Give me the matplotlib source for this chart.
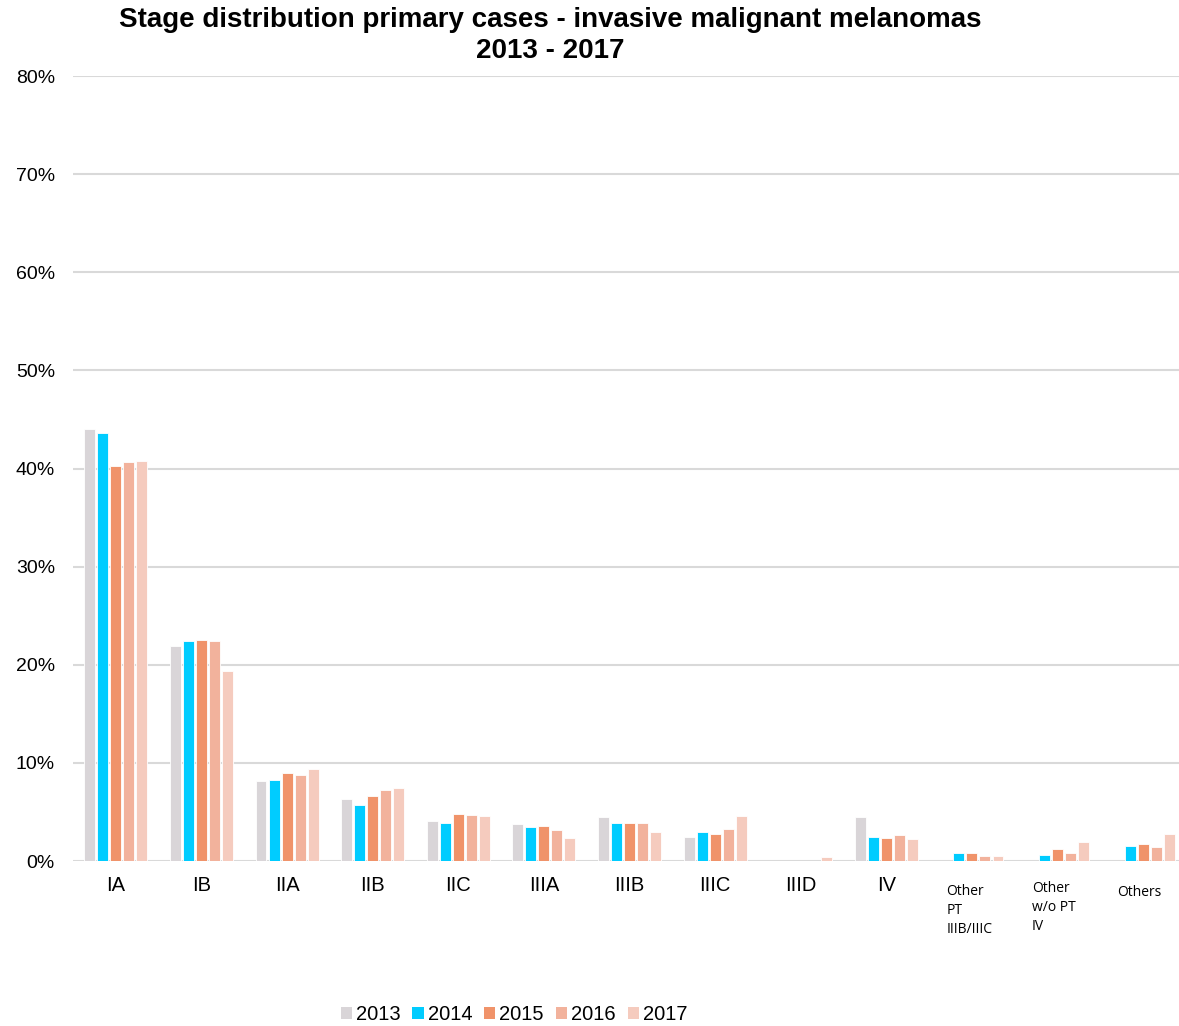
import numpy as np
import matplotlib.pyplot as plt
from matplotlib.patches import Patch
import matplotlib.transforms as mtransforms

plt.rcParams['font.family'] = ['Liberation Sans', 'DejaVu Sans']

# stages on the x axis
stages = ["IA", "IB", "IIA", "IIB", "IIC", "IIIA", "IIIB", "IIIC", "IIID", "IV",
          "Other\nPT\nIIIB/IIIC", "Other\nw/o PT\nIV", "Others"]
years = ["2013", "2014", "2015", "2016", "2017"]

# percentages
v2013 = [44.0, 21.9, 8.15, 6.3, 4.05, 3.8, 4.5, 2.4, 0.0, 4.45, 0.0, 0.0, 0.0]
v2014 = [43.6, 22.4, 8.25, 5.75, 3.85, 3.45, 3.85, 2.95, 0.0, 2.4, 0.8, 0.65, 1.5]
v2015 = [40.3, 22.5, 9.0, 6.6, 4.8, 3.6, 3.9, 2.75, 0.0, 2.3, 0.85, 1.2, 1.7]
v2016 = [40.7, 22.45, 8.8, 7.2, 4.65, 3.15, 3.9, 3.25, 0.0, 2.65, 0.5, 0.8, 1.4]
v2017 = [40.8, 19.4, 9.4, 7.4, 4.6, 2.35, 2.95, 4.55, 0.4, 2.25, 0.5, 1.9, 2.8]

values = [v2013, v2014, v2015, v2016, v2017]
colors = ["#D9D5D8", "#00CCFF", "#F0936A", "#F2B29C", "#F5CBBE"]

fig = plt.figure(figsize=(11.79, 10.26), dpi=100)
ax = fig.add_axes([73 / 1179, 0.1608, (1186 - 73) / 1179, 0.7651])

x = np.arange(len(stages))
step = 0.152
width = 0.128
for i, (vals, col) in enumerate(zip(values, colors)):
    ax.bar(x + (i - 2) * step, vals, width, color=col, edgecolor="white",
           linewidth=0.6, zorder=3, label=years[i])

ax.set_xlim(-0.5, len(stages) - 0.5)
ax.set_ylim(0, 80)
ax.set_yticks(np.arange(0, 81, 10))
ax.set_yticklabels([f"{t}%" for t in range(0, 81, 10)], fontsize=14)
ax.yaxis.grid(True, color="#D9D9D9", linewidth=1.5, zorder=0)
ax.axhline(0, color="#D9D9D9", linewidth=2, zorder=2)
ax.tick_params(axis="y", length=0, pad=13)
ax.tick_params(axis="x", length=0, pad=11)
for s in ax.spines.values():
    s.set_visible(False)

# roman stage labels as ticks, the long ones as separate text
ax.set_xticks(x[:10])
ax.set_xticklabels(stages[:10], fontsize=14.5)
trans = mtransforms.blended_transform_factory(ax.transData, fig.transFigure)
for xi, lab, ytop in [(10, stages[10], 1 - 884 / 1026),
                      (11, stages[11], 1 - 881 / 1026),
                      (12, stages[12], 1 - 885 / 1026)]:
    ax.text(xi - 0.3, ytop, lab, transform=trans, ha="left", va="top",
            fontsize=10, family=["Open Sans", "DejaVu Sans"], linespacing=1.35)

fig.text(550 / 1179, 1 - 20 / 1026, "Stage distribution primary cases - invasive malignant melanomas",
         ha="center", va="center", fontsize=20, fontweight="bold")
fig.text(550 / 1179, 1 - 51 / 1026, "2013 - 2017",
         ha="center", va="center", fontsize=20, fontweight="bold")

handles = [Patch(facecolor=c, edgecolor="none") for c in colors]
fig.legend(handles, years, loc="center", bbox_to_anchor=(514 / 1179, 1 - 1015 / 1026),
           ncol=5, frameon=False, fontsize=14.5, handlelength=0.55, handleheight=0.55,
           handletextpad=0.2, columnspacing=0.6)

fig.savefig("out.png", dpi=100)
